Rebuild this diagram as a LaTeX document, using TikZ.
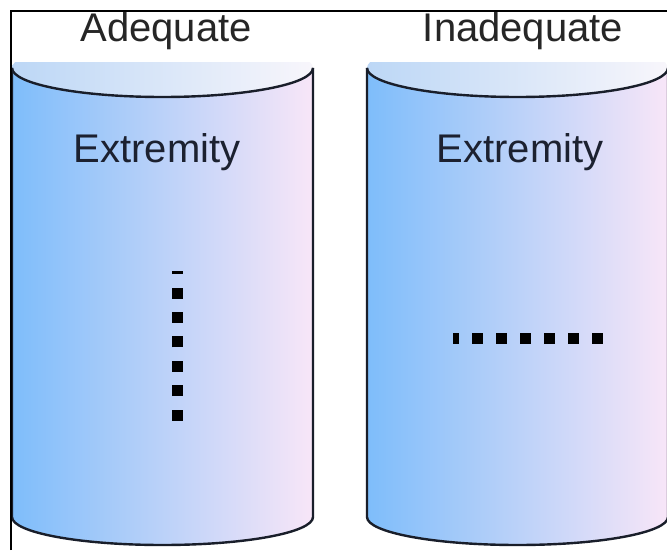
\documentclass[tikz,border=0pt]{standalone}
\usepackage{fontspec}
\setmainfont{Liberation Sans}
\definecolor{bodyL}{RGB}{126,189,250}
\definecolor{bodyM}{RGB}{176,206,238}
\definecolor{bodyR}{RGB}{248,230,248}
\definecolor{topL}{RGB}{188,215,246}
\definecolor{topM}{RGB}{222,233,248}
\definecolor{topR}{RGB}{248,246,251}
\definecolor{edgecol}{RGB}{25,30,42}
\definecolor{headcol}{RGB}{38,38,38}
\definecolor{inncol}{RGB}{28,33,48}
\begin{document}
\begin{tikzpicture}[x=1pt,y=1pt,
  headtxt/.style={text=headcol,font=\fontsize{40}{48}\selectfont,inner sep=0pt},
  innertxt/.style={text=inncol,font=\fontsize{40}{48}\selectfont,inner sep=0pt},
  cylstroke/.style={draw=edgecol,line width=2.4pt,line join=round},
  dotline/.style={draw=black,line width=11pt,line cap=butt}
]
\useasboundingbox (0,0) rectangle (667,550);
\fill[white] (0,0) rectangle (667,550);
\foreach \cx in {162.5,517.5}{
  % top ellipse (clipped)
  \begin{scope}
    \clip (\cx-152,0) rectangle (\cx+152,487);
    \shade[left color=topL,middle color=topM,right color=topR]
      (\cx,482) ellipse [x radius=150.5, y radius=29];
  \end{scope}
  % body
  \shade[left color=bodyL,middle color=bodyM,right color=bodyR]
    (\cx-150.5,482) arc[start angle=180,end angle=360,x radius=150.5,y radius=29]
    -- (\cx+150.5,33) arc[start angle=0,end angle=-180,x radius=150.5,y radius=28]
    -- cycle;
  % outline
  \draw[cylstroke] (\cx-150.5,482) -- (\cx-150.5,33)
    arc[start angle=180,end angle=360,x radius=150.5,y radius=28]
    -- (\cx+150.5,482);
  \draw[cylstroke] (\cx-150.5,482)
    arc[start angle=180,end angle=360,x radius=150.5,y radius=29];
}
\node[headtxt,anchor=base] (adq) at (166,508) {Adequate};
\node[headtxt,anchor=base] (inadq) at (523,508) {Inadequate};
\node[innertxt,anchor=base] (ext1) at (157,387) {Extremity};
\node[innertxt,anchor=base] (ext2) at (520,387) {Extremity};
\coordinate (v1) at (177,129.5);
\coordinate (v2) at (177,279.5);
\coordinate (h1) at (602.5,212);
\coordinate (h2) at (453,212);
\draw[dotline,dash pattern=on 11pt off 13.4pt] (v1) -- (v2);
\draw[dotline,dash pattern=on 11pt off 13pt] (h1) -- (h2);
\draw[black,line width=2pt] (11,0) -- (11,539) -- (667,539);
\end{tikzpicture}
\end{document}
